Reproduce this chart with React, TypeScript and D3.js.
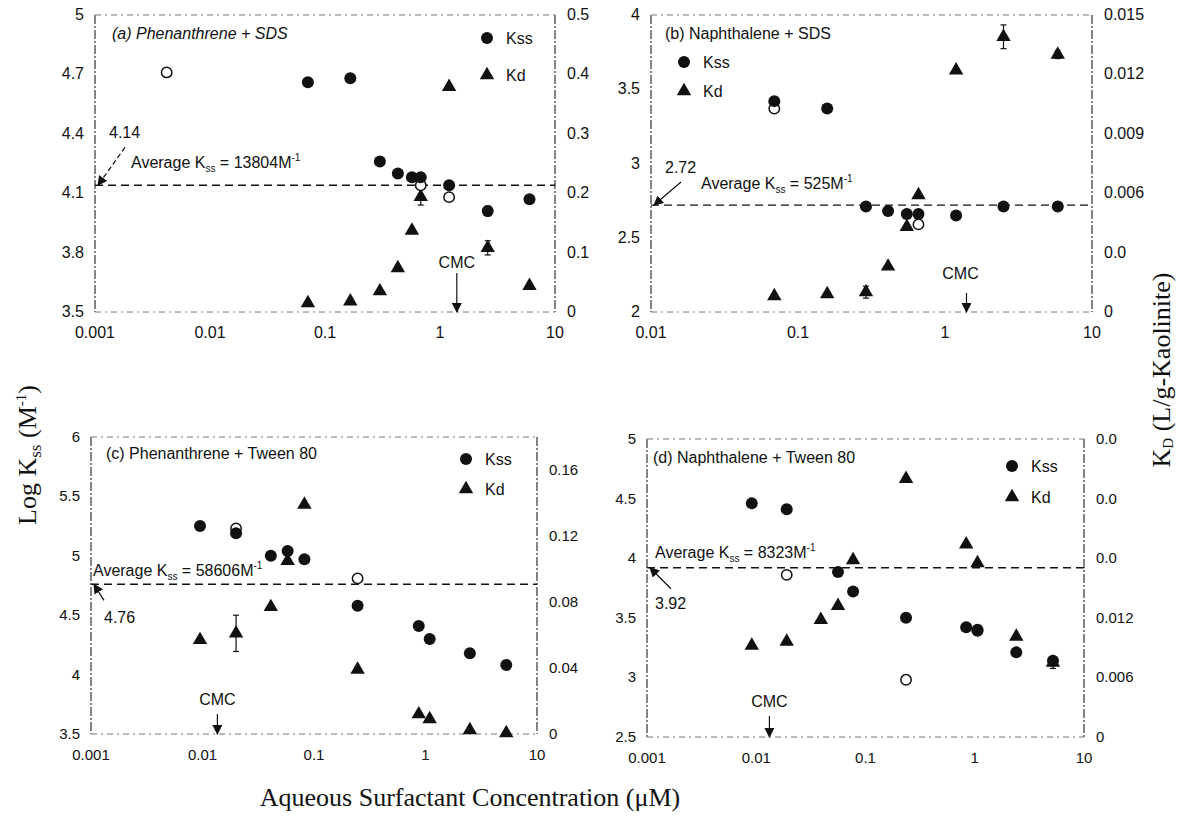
import * as d3 from "d3";
import { useEffect, useRef } from "react";

// values (concentration in uM)
const concA = [0.071, 0.166, 0.3, 0.43, 0.57, 0.68, 1.2, 2.6, 6.0];
const kssA = [4.66, 4.68, 4.26, 4.2, 4.18, 4.18, 4.14, 4.01, 4.07];
const kdA = [0.015, 0.018, 0.035, 0.074, 0.137, 0.194, 0.379, 0.108, 0.044];
const kssErrA = [0, 0, 0, 0, 0, 0.02, 0, 0.025, 0];
const kdErrA = [0, 0, 0, 0, 0, 0.014, 0, 0.012, 0];
const openConcA = [0.0042, 0.68, 1.2];
const openKssA = [4.71, 4.14, 4.08];

const concB = [0.069, 0.158, 0.29, 0.41, 0.55, 0.66, 1.19, 2.5, 5.85];
const kssB = [3.42, 3.37, 2.71, 2.68, 2.66, 2.66, 2.65, 2.71, 2.71];
const kdB = [0.0008, 0.0009, 0.001, 0.0023, 0.0043, 0.0059, 0.0122, 0.0139, 0.013];
const kssErrB = [0, 0, 0, 0, 0, 0, 0, 0, 0];
const kdErrB = [0, 0, 0.0003, 0, 0, 0, 0, 0.0006, 0.0002];
const openConcB = [0.069, 0.66];
const openKssB = [3.37, 2.59];

const concC = [0.0095, 0.02, 0.041, 0.058, 0.082, 0.246, 0.87, 1.09, 2.5, 5.3];
const kssC = [5.25, 5.19, 5.0, 5.04, 4.97, 4.58, 4.41, 4.3, 4.18, 4.08];
const kdC = [0.057, 0.061, 0.077, 0.105, 0.139, 0.039, 0.012, 0.009, 0.0024, 0.0005];
const kssErrC = [0, 0, 0, 0, 0, 0, 0, 0, 0, 0];
const kdErrC = [0, 0.011, 0, 0, 0, 0, 0, 0, 0, 0];
const openConcC = [0.02, 0.246];
const openKssC = [5.23, 4.81];

const concD = [0.0091, 0.019, 0.039, 0.056, 0.077, 0.235, 0.835, 1.06, 2.4, 5.2];
const kssD = [4.46, 4.41, null, 3.885, 3.72, 3.5, 3.42, 3.4, 3.21, 3.14];
const kdD = [0.0092, 0.0096, 0.0118, 0.0132, 0.0178, 0.026, 0.0194, 0.0175, 0.0101, 0.0075];
const kssErrD = [0, 0, 0, 0, 0, 0, 0, 0, 0, 0];
const kdErrD = [0, 0, 0, 0, 0, 0, 0, 0, 0, 0.0006];
const openConcD = [0.019, 0.235, 1.06];
const openKssD = [3.86, 2.98, 3.39];

const titles = [
  "(a) Phenanthrene + SDS",
  "(b) Naphthalene + SDS",
  "(c) Phenanthrene + Tween 80",
  "(d) Naphthalene + Tween 80",
];
const avgKss = [4.14, 2.72, 4.76, 3.92];
const avgLabel = ["13804", "525", "58606", "8323"];
const cmc = [1.4, 1.4, 0.0136, 0.0132];

const xTicksA = [0.001, 0.01, 0.1, 1, 10];
const xTicksB = [0.01, 0.1, 1, 10];
const yTicksA = [3.5, 3.8, 4.1, 4.4, 4.7, 5];
const yTicksB = [2, 2.5, 3, 3.5, 4];
const yTicksC = [3.5, 4, 4.5, 5, 5.5, 6];
const yTicksD = [2.5, 3, 3.5, 4, 4.5, 5];
const y2TicksA = [0, 0.1, 0.2, 0.3, 0.4, 0.5];
const y2LabelsA = ["0", "0.1", "0.2", "0.3", "0.4", "0.5"];
const y2TicksB = [0, 0.003, 0.006, 0.009, 0.012, 0.015];
const y2LabelsB = ["0", "0.0", "0.006", "0.009", "0.012", "0.015"];
const y2TicksC = [0, 0.04, 0.08, 0.12, 0.16];
const y2LabelsC = ["0", "0.04", "0.08", "0.12", "0.16"];
const y2TicksD = [0, 0.006, 0.012, 0.018, 0.024, 0.03];
const y2LabelsD = ["0", "0.006", "0.012", "0.0", "0.0", "0.0"];

const SANS = "'Liberation Sans', Arial, sans-serif";
const SERIF = "'Liberation Serif', 'Times New Roman', serif";

const panels = [
  {
    box: [95, 555, 15, 312], xDomain: [0.001, 10], yDomain: [3.5, 5], y2Domain: [0, 0.5],
    xTicks: xTicksA, yTicks: yTicksA, y2Ticks: y2TicksA, y2Labels: y2LabelsA,
    conc: concA, kss: kssA, kd: kdA, kssErr: kssErrA, kdErr: kdErrA, openConc: openConcA, openKss: openKssA,
    italicTitle: true, titleAt: [17, 24], legend: { x: -68, y: 23, gap: 37, fromRight: true },
    avgText: [36, -17], avgNum: [14, -47], avgArrow: [27, -38, true], cmcLen: 39, cmcGap: 5, cmcDx: 0,
  },
  {
    box: [651, 1092, 15, 312], xDomain: [0.01, 10], yDomain: [2, 4], y2Domain: [0, 0.015],
    xTicks: xTicksB, yTicks: yTicksB, y2Ticks: y2TicksB, y2Labels: y2LabelsB,
    conc: concB, kss: kssB, kd: kdB, kssErr: kssErrB, kdErr: kdErrB, openConc: openConcB, openKss: openKssB,
    italicTitle: false, titleAt: [14, 24], legend: { x: 33, y: 47, gap: 29, fromRight: false },
    avgText: [50, -16], avgNum: [14, -32], avgArrow: [27, -23, false], cmcLen: 19, cmcGap: 14, cmcDx: -6,
  },
  {
    box: [91, 537, 437, 734], xDomain: [0.001, 10], yDomain: [3.5, 6], y2Domain: [0, 0.18],
    xTicks: xTicksA, yTicks: yTicksC, y2Ticks: y2TicksC, y2Labels: y2LabelsC,
    conc: concC, kss: kssC, kd: kdC, kssErr: kssErrC, kdErr: kdErrC, openConc: openConcC, openKss: openKssC,
    italicTitle: false, titleAt: [15, 22], legend: { x: -71, y: 22, gap: 30, fromRight: true },
    avgText: [2, -8], avgNum: [13, 39], avgArrow: [10, 16, false], cmcLen: 20, cmcGap: 9, cmcDx: 0,
  },
  {
    box: [647, 1084, 439, 737], xDomain: [0.001, 10], yDomain: [2.5, 5], y2Domain: [0, 0.03],
    xTicks: xTicksA, yTicks: yTicksD, y2Ticks: y2TicksD, y2Labels: y2LabelsD,
    conc: concD, kss: kssD, kd: kdD, kssErr: kssErrD, kdErr: kdErrD, openConc: openConcD, openKss: openKssD,
    italicTitle: false, titleAt: [6, 24], legend: { x: -72, y: 27, gap: 31, fromRight: true },
    avgText: [8, -10], avgNum: [8, 41], avgArrow: [21, 21, false], cmcLen: 21, cmcGap: 9, cmcDx: 0,
  },
];

export default function App() {
  const ref = useRef<SVGSVGElement | null>(null);

  useEffect(() => {
    const svg = d3.select(ref.current);
    svg.selectAll("*").remove();

    svg
      .append("defs")
      .append("marker")
      .attr("id", "ah")
      .attr("viewBox", "0 0 10 10")
      .attr("refX", 9)
      .attr("refY", 5)
      .attr("markerUnits", "userSpaceOnUse")
      .attr("markerWidth", 10)
      .attr("markerHeight", 10)
      .attr("orient", "auto")
      .append("path")
      .attr("d", "M0,0 L10,5 L0,10 z")
      .attr("fill", "#111");

    const tri = d3.symbol().type(d3.symbolTriangle).size(90);

    panels.forEach((p, i) => {
      const [left, right, top, bottom] = p.box;
      const x = d3.scaleLog().domain(p.xDomain).range([left, right]);
      const y = d3.scaleLinear().domain(p.yDomain).range([bottom, top]);
      const y2 = d3.scaleLinear().domain(p.y2Domain).range([bottom, top]);
      const g = svg.append("g");

      // frame: dash-dot sides, faint dotted top/bottom (scanned look)
      [left, right].forEach((xx) =>
        g.append("line")
          .attr("x1", xx).attr("x2", xx).attr("y1", top).attr("y2", bottom)
          .attr("stroke", "#333").attr("stroke-width", 1.2)
          .attr("stroke-dasharray", "9,2,2,2")
      );
      [top, bottom].forEach((yy) =>
        g.append("line")
          .attr("x1", left).attr("x2", right).attr("y1", yy).attr("y2", yy)
          .attr("stroke", "#777").attr("stroke-width", 1)
          .attr("stroke-dasharray", "6,4,2,4")
      );

      // tick labels
      const fs = i < 2 ? 16 : 15;
      g.selectAll(".yl").data(p.yTicks).join("text")
        .attr("x", left - 11).attr("y", (d) => y(d) + 5)
        .attr("text-anchor", "end").attr("font-family", SANS).attr("font-size", fs)
        .attr("fill", "#111").text((d) => String(d));
      g.selectAll(".y2l").data(p.y2Ticks).join("text")
        .attr("x", right + 12).attr("y", (d) => y2(d) + 5)
        .attr("font-family", SANS).attr("font-size", fs)
        .attr("fill", "#111").text((d, k) => p.y2Labels[k]);
      g.selectAll(".xl").data(p.xTicks).join("text")
        .attr("x", (d) => x(d)).attr("y", bottom + 26)
        .attr("text-anchor", "middle").attr("font-family", SANS).attr("font-size", fs)
        .attr("fill", "#111").text((d) => String(d));

      // panel title
      g.append("text")
        .attr("x", left + p.titleAt[0]).attr("y", top + p.titleAt[1])
        .attr("font-family", SANS).attr("font-size", 16).attr("fill", "#111")
        .attr("font-style", p.italicTitle ? "italic" : "normal")
        .text(titles[i]);

      // legend
      const lx = p.legend.fromRight ? right + p.legend.x : left + p.legend.x;
      const ly = top + p.legend.y;
      g.append("circle").attr("cx", lx).attr("cy", ly).attr("r", 6).attr("fill", "#111");
      g.append("path").attr("d", tri).attr("transform", `translate(${lx},${ly + p.legend.gap})`).attr("fill", "#111");
      g.append("text").attr("x", lx + 19).attr("y", ly + 6)
        .attr("font-family", SANS).attr("font-size", 16).attr("fill", "#111").text("Kss");
      g.append("text").attr("x", lx + 19).attr("y", ly + p.legend.gap + 6)
        .attr("font-family", SANS).attr("font-size", 16).attr("fill", "#111").text("Kd");

      // average Kss line
      const ay = y(avgKss[i]);
      g.append("line")
        .attr("x1", left).attr("x2", right).attr("y1", ay).attr("y2", ay)
        .attr("stroke", "#111").attr("stroke-width", 1.4).attr("stroke-dasharray", "8,5");
      const at = g.append("text")
        .attr("x", left + p.avgText[0]).attr("y", ay + p.avgText[1])
        .attr("font-family", SANS).attr("font-size", 16).attr("fill", "#111");
      at.append("tspan").text("Average K");
      at.append("tspan").attr("font-size", 10).attr("dy", 4).text("ss");
      at.append("tspan").attr("dy", -4).text(` = ${avgLabel[i]}M`);
      at.append("tspan").attr("font-size", 10).attr("dy", -7).text("-1");
      g.append("text")
        .attr("x", left + p.avgNum[0]).attr("y", ay + p.avgNum[1])
        .attr("font-family", SANS).attr("font-size", 16).attr("fill", "#111")
        .text(String(avgKss[i]));
      const tipX = left + 3;
      g.append("line")
        .attr("x1", tipX + p.avgArrow[0]).attr("y1", ay + p.avgArrow[1])
        .attr("x2", tipX).attr("y2", ay)
        .attr("stroke", "#111").attr("stroke-width", 1.2)
        .attr("stroke-dasharray", p.avgArrow[2] ? "5,3" : null)
        .attr("marker-end", "url(#ah)");

      // CMC arrow
      const cx = x(cmc[i]);
      g.append("line")
        .attr("x1", cx).attr("x2", cx).attr("y1", bottom - p.cmcLen).attr("y2", bottom)
        .attr("stroke", "#111").attr("stroke-width", 1.2).attr("marker-end", "url(#ah)");
      g.append("text")
        .attr("x", cx + p.cmcDx).attr("y", bottom - p.cmcLen - p.cmcGap)
        .attr("text-anchor", "middle").attr("font-family", SANS).attr("font-size", 16)
        .attr("fill", "#111").text("CMC");

      // error bars
      const errBar = (xx: number, y0: number, y1: number) => {
        g.append("line").attr("x1", xx).attr("x2", xx).attr("y1", y0).attr("y2", y1)
          .attr("stroke", "#111").attr("stroke-width", 1.2);
        [y0, y1].forEach((yy) =>
          g.append("line").attr("x1", xx - 3).attr("x2", xx + 3).attr("y1", yy).attr("y2", yy)
            .attr("stroke", "#111").attr("stroke-width", 1.2)
        );
      };
      p.conc.forEach((c, k) => {
        if (p.kssErr[k] && p.kss[k] != null)
          errBar(x(c), y(p.kss[k] - p.kssErr[k]), y(p.kss[k] + p.kssErr[k]));
        if (p.kdErr[k]) errBar(x(c), y2(p.kd[k] - p.kdErr[k]), y2(p.kd[k] + p.kdErr[k]));
      });

      // Kd triangles (right axis)
      g.selectAll(".kd").data(p.conc.map((c, k) => [c, p.kd[k]])).join("path")
        .attr("d", tri)
        .attr("transform", (d) => `translate(${x(d[0])},${y2(d[1])})`)
        .attr("fill", "#111");

      // open Kss circles
      g.selectAll(".open").data(p.openConc.map((c, k) => [c, p.openKss[k]])).join("circle")
        .attr("cx", (d) => x(d[0])).attr("cy", (d) => y(d[1])).attr("r", 5.2)
        .attr("fill", "#fff").attr("stroke", "#111").attr("stroke-width", 1.5);

      // filled Kss circles
      g.selectAll(".kss")
        .data(p.conc.map((c, k) => [c, p.kss[k]]).filter((d) => d[1] != null))
        .join("circle")
        .attr("cx", (d) => x(d[0])).attr("cy", (d) => y(d[1] as number)).attr("r", 6)
        .attr("fill", "#111");
    });

    // axis titles
    const lt = svg.append("text")
      .attr("transform", "translate(36,455) rotate(-90)")
      .attr("text-anchor", "middle").attr("font-family", SERIF).attr("font-size", 26).attr("fill", "#111");
    lt.append("tspan").text("Log K");
    lt.append("tspan").attr("font-size", 17).attr("dy", 5).text("ss");
    lt.append("tspan").attr("dy", -5).text(" (M");
    lt.append("tspan").attr("font-size", 15).attr("dy", -10).text("-1");
    lt.append("tspan").attr("dy", 10).text(")");

    const rt = svg.append("text")
      .attr("transform", "translate(1170,370) rotate(-90)")
      .attr("text-anchor", "middle").attr("font-family", SERIF).attr("font-size", 26).attr("fill", "#111");
    rt.append("tspan").text("K");
    rt.append("tspan").attr("font-size", 15).attr("dy", 3).text("D");
    rt.append("tspan").attr("dy", -3).text(" (L/g-Kaolinite)");

    svg.append("text")
      .attr("x", 470).attr("y", 806)
      .attr("text-anchor", "middle").attr("font-family", SERIF).attr("font-size", 26).attr("fill", "#111")
      .text("Aqueous Surfactant Concentration (\u03bcM)");
  }, []);

  return (
    <svg
      ref={ref}
      width={1186}
      height={825}
      style={{ position: "absolute", left: 0, top: 0, background: "#fff" }}
    />
  );
}
